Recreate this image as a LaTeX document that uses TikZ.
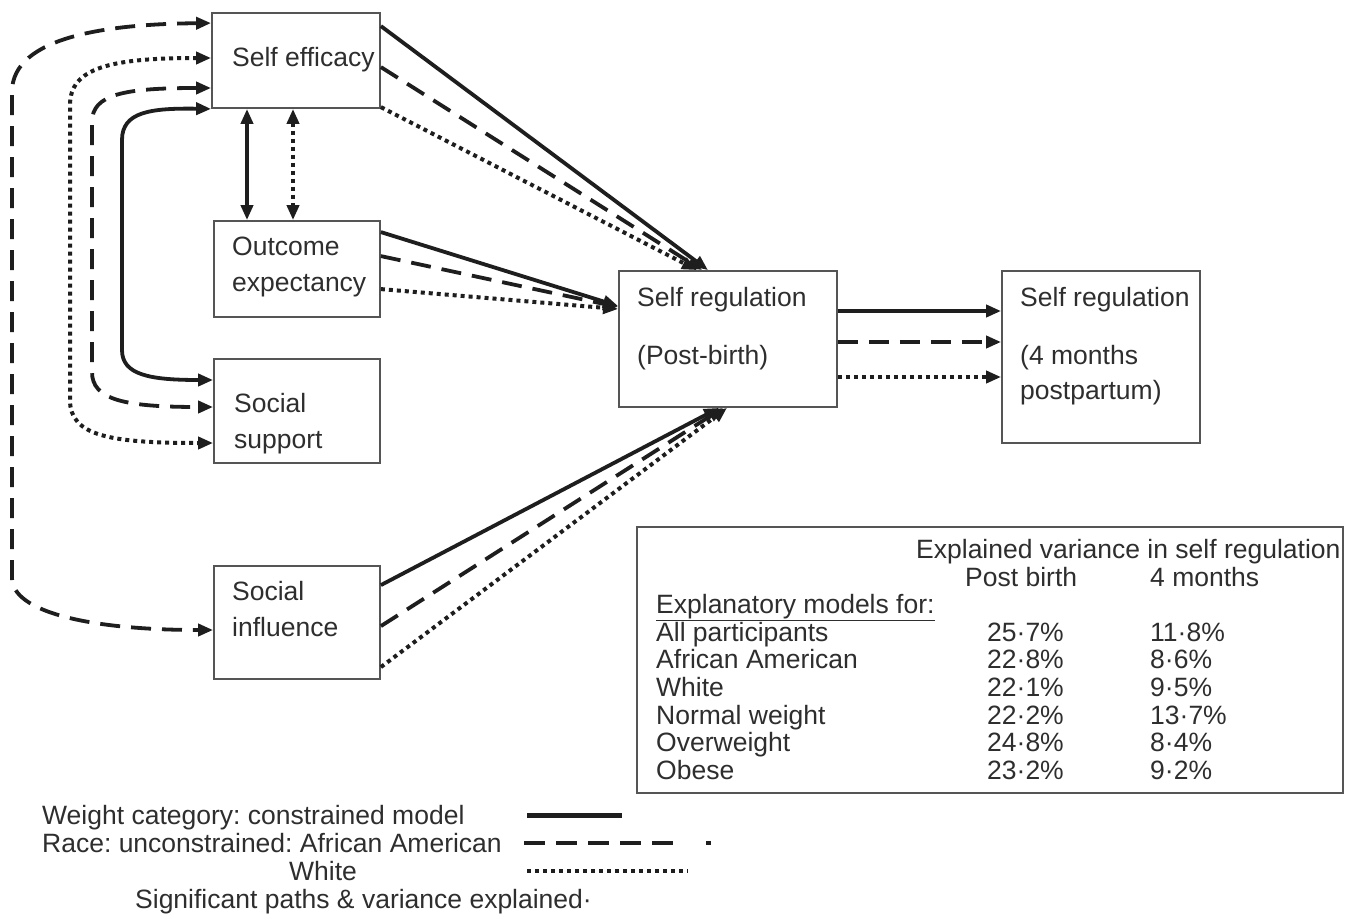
\documentclass[tikz,border=0pt]{standalone}
\usepackage{fontspec}
\setmainfont{Liberation Sans}
\usetikzlibrary{arrows.meta}
\definecolor{ink}{HTML}{1E1E1E}
\definecolor{txtc}{HTML}{2E2E2E}
\definecolor{boxc}{HTML}{555555}
\frenchspacing
\tikzset{
  box/.style={draw=boxc, line width=1.8pt, inner sep=0pt, rectangle},
  txt/.style={inner sep=0pt, anchor=base west, text=txtc, font=\fontsize{26.5}{31}\selectfont},
  tip/.style={-{Triangle[length=15pt,width=12pt]}},
  tips/.style={{Triangle[length=15pt,width=12pt]}-{Triangle[length=15pt,width=12pt]}},
  solidln/.style={draw=ink, line width=3.8pt},
  dashln/.style={draw=ink, line width=3.8pt, dash pattern=on 20pt off 11pt},
  dotln/.style={draw=ink, line width=4pt, dash pattern=on 4pt off 4pt},
}
\begin{document}
\begin{tikzpicture}[x=1pt,y=-1pt]
\useasboundingbox[fill=white] (0,0) rectangle (1346,915);

% boxes
\node[box, minimum width=168pt, minimum height=95pt] (se) at (296,60.5) {};
\node[box, minimum width=166pt, minimum height=96pt] (oe) at (297,269) {};
\node[box, minimum width=166pt, minimum height=104pt] (ss) at (297,411) {};
\node[box, minimum width=166pt, minimum height=113pt] (si) at (297,622.5) {};
\node[box, minimum width=218pt, minimum height=136pt] (sr) at (728,339) {};
\node[box, minimum width=198pt, minimum height=172pt] (sr4) at (1101,357) {};
\node[box, minimum width=706pt, minimum height=266pt] (tb) at (990,660) {};

% box texts
\node[txt] (se1) at (232,66.5) {Self efficacy};
\node[txt] (oe1) at (232,255.5) {Outcome};
\node[txt] (oe2) at (232,291.5) {expectancy};
\node[txt] (ss1) at (234,412) {Social};
\node[txt] (ss2) at (234,448) {support};
\node[txt] (si1) at (232,600.5) {Social};
\node[txt] (si2) at (232,636.5) {influence};
\node[txt] (sr1) at (637,306.5) {Self regulation};
\node[txt] (sr2) at (637,364.5) {(Post-birth)};
\node[txt] (sq1) at (1020,306.5) {Self regulation};
\node[txt] (sq2) at (1020,364.5) {(4 months};
\node[txt] (sq3) at (1020,399.5) {postpartum)};

% table text
\node[txt] (th1) at (916,558.5) {Explained variance in self regulation};
\node[txt] (th2) at (965,586.5) {Post birth};
\node[txt] (th3) at (1150,586.5) {4 months};
\node[txt] (th4) at (656,613.5) {\underline{Explanatory models for:}};
\node[txt] (r1a) at (656,641.5) {All participants};
\node[txt] (r1b) at (987,641.5) {25·7\%};
\node[txt] (r1c) at (1150,641.5) {11·8\%};
\node[txt] (r2a) at (656,668.5) {African American};
\node[txt] (r2b) at (987,668.5) {22·8\%};
\node[txt] (r2c) at (1150,668.5) {8·6\%};
\node[txt] (r3a) at (656,696.5) {White};
\node[txt] (r3b) at (987,696.5) {22·1\%};
\node[txt] (r3c) at (1150,696.5) {9·5\%};
\node[txt] (r4a) at (656,724.5) {Normal weight};
\node[txt] (r4b) at (987,724.5) {22·2\%};
\node[txt] (r4c) at (1150,724.5) {13·7\%};
\node[txt] (r5a) at (656,751.5) {Overweight};
\node[txt] (r5b) at (987,751.5) {24·8\%};
\node[txt] (r5c) at (1150,751.5) {8·4\%};
\node[txt] (r6a) at (656,779.5) {Obese};
\node[txt] (r6b) at (987,779.5) {23·2\%};
\node[txt] (r6c) at (1150,779.5) {9·2\%};

% legend
\node[txt] (lg1) at (42,824.5) {Weight category: constrained model};
\node[txt] (lg2) at (42,852.5) {Race: unconstrained: African American};
\node[txt] (lg3) at (289,880.5) {White};
\node[txt] (lg4) at (135,908.5) {Significant paths \& variance explained·};
\coordinate (l1a) at (527,815); \coordinate (l1b) at (622,815);
\coordinate (l2a) at (524,843); \coordinate (l2b) at (675,843);
\coordinate (l2c) at (706,843); \coordinate (l2d) at (711,843);
\coordinate (l3a) at (527,871); \coordinate (l3b) at (688,871);
\draw[draw=ink, line width=5pt] (l1a) -- (l1b);
\draw[draw=ink, line width=4.5pt, dash pattern=on 21pt off 11pt] (l2a) -- (l2b);
\draw[draw=ink, line width=4.5pt] (l2c) -- (l2d);
\draw[dotln] (l3a) -- (l3b);

% left loops
\draw[dashln, tips] ([yshift=-11pt]se.north west) .. controls (110,24) and (12,36) .. (12,92) -- (12,578) .. controls (12,612) and (90,630) .. ([yshift=-7.5pt]si.west);
\draw[dotln, tips] ([yshift=2.5pt]se.west) .. controls (110,58) and (70,68) .. (70,105) -- (70,400) .. controls (70,436) and (110,443) .. ([yshift=-32pt]ss.west);
\draw[dashln, tips] ([yshift=-27.5pt]se.west) .. controls (125,88) and (92,94) .. (92,122) -- (92,372) .. controls (92,400) and (125,407) .. ([yshift=4pt]ss.west);
\draw[solidln, tips] (se.south west) .. controls (150,108) and (122,112) .. (122,140) -- (122,350) .. controls (122,375) and (150,380) .. ([yshift=31pt]ss.west);

% vertical double arrows
\coordinate (vx1) at (247,0);
\coordinate (vx2) at (293,0);
\draw[solidln, tips] (se.south -| vx1) -- (oe.north -| vx1);
\draw[dotln, tips] (se.south -| vx2) -- (oe.north -| vx2);

% to self regulation (post-birth)
\draw[dotln, tip] ([yshift=-95pt]se.north east) -- ([xshift=-31pt]sr.north);
\draw[dashln, tip] ([yshift=-55pt]se.north east) -- ([xshift=-26pt]sr.north);
\draw[solidln, tip] ([yshift=-14pt]se.north east) -- ([xshift=-20pt]sr.north);

\draw[dotln, tip] ([yshift=-69pt]oe.north east) -- ([yshift=30pt]sr.west);
\draw[dashln, tip] ([yshift=-36pt]oe.north east) -- ([yshift=32pt]sr.west);
\draw[solidln, tip] ([yshift=-12pt]oe.north east) -- ([yshift=33pt]sr.west);

\draw[dotln, tip] ([yshift=-102pt]si.north east) -- ([xshift=-1pt]sr.south);
\draw[dashln, tip] ([yshift=-61pt]si.north east) -- ([xshift=-5pt]sr.south);
\draw[solidln, tip] ([yshift=-20pt]si.north east) -- ([xshift=-9pt]sr.south);

% to self regulation (4 months)
\draw[solidln, tip] ([yshift=28pt]sr.east) -- ([yshift=46pt]sr4.west);
\draw[dashln, tip] ([yshift=-3pt]sr.east) -- ([yshift=15pt]sr4.west);
\draw[dotln, tip] ([yshift=-38pt]sr.east) -- ([yshift=-20pt]sr4.west);
\end{tikzpicture}
\end{document}
